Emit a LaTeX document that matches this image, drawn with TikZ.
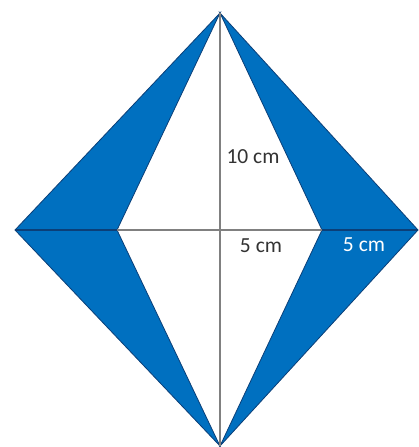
\documentclass[tikz,border=0pt]{standalone}
\usepackage{fontspec}
\setmainfont{Carlito}
\definecolor{kiteblue}{HTML}{0070C0}
\definecolor{edgeblue}{HTML}{0B3F78}
\definecolor{linegray}{HTML}{808080}
\begin{document}
\begin{tikzpicture}[x=1pt,y=-1pt,
  bluepart/.style={fill=kiteblue,draw=edgeblue,line width=0.8pt,line join=miter},
  axisline/.style={draw=linegray,line width=1.2pt},
  axisblue/.style={draw=edgeblue,line width=1.2pt},
  lbl/.style={font=\fontsize{21.5}{23}\selectfont,inner sep=0pt,text=black!80},
  lblw/.style={font=\fontsize{21.5}{23}\selectfont,inner sep=0pt,text=white}]
\useasboundingbox (0,0) rectangle (419,447);
\coordinate (T) at (220,13);
\coordinate (B) at (220,446);
\coordinate (L) at (15,230);
\coordinate (R) at (418,230);
\coordinate (IL) at (117,230);
\coordinate (IR) at (322,230);
\path[bluepart] (T) -- (L) -- (B) -- (IL) -- cycle;
\path[bluepart] (T) -- (R) -- (B) -- (IR) -- cycle;
\path[axisline] (T) -- (B);
\path[axisline] (IL) -- (IR);
\path[axisblue] (L) -- (IL);
\path[axisblue] (IR) -- (R);
\node[lbl] (h) at (253,157) {10 cm};
\node[lbl] (w) at (261,246) {5 cm};
\node[lblw] (w2) at (364,245) {5 cm};
\end{tikzpicture}
\end{document}
